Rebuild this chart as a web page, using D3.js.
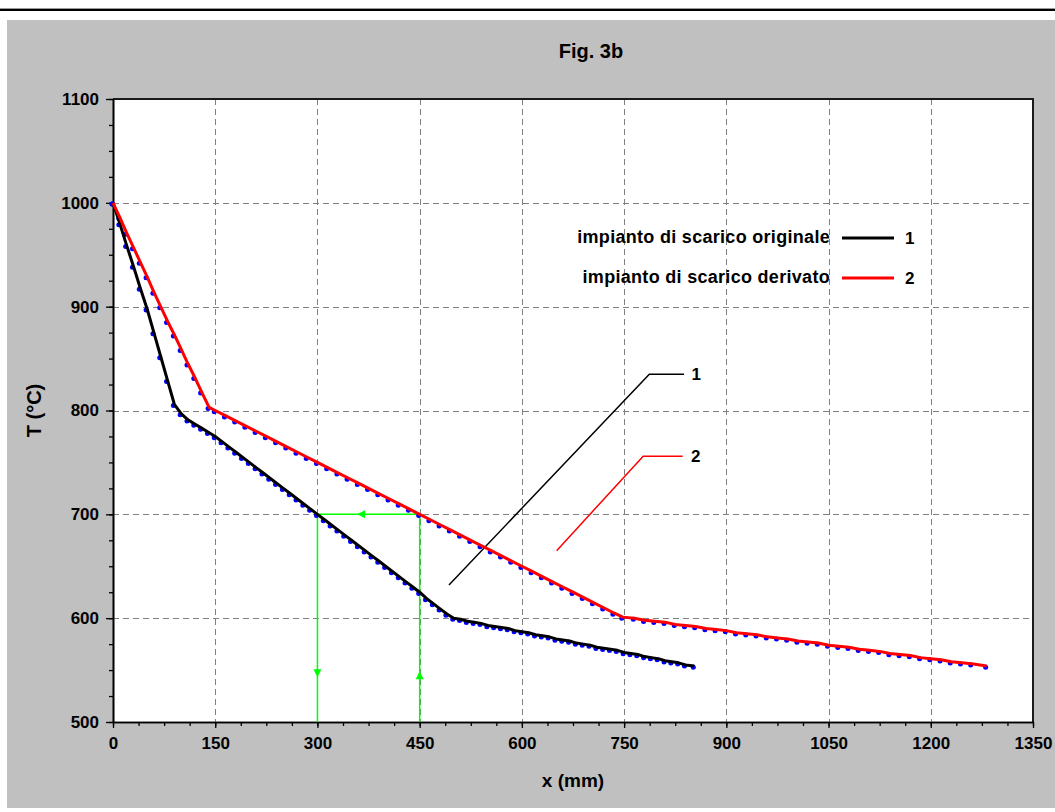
<!DOCTYPE html>
<html>
<head>
<meta charset="utf-8">
<script src="https://cdn.jsdelivr.net/npm/d3@7"></script>
<style>
  html, body { margin: 0; padding: 0; background: #ffffff; }
  svg { display: block; }
  text { font-family: "Liberation Sans", Arial, sans-serif; fill: #000; }
</style>
</head>
<body>
<svg id="chart" width="1055" height="812"></svg>
<script>
// ---------- data ----------
const title = "Fig. 3b";
const xLabel = "x (mm)";
const yLabel = "T (°C)";
const xTicks = [0, 150, 300, 450, 600, 750, 900, 1050, 1200, 1350];
const yTicks = [500, 600, 700, 800, 900, 1000, 1100];

const seriesNames = ["impianto di scarico originale", "impianto di scarico derivato"];
const seriesIds = ["1", "2"];

// series 1 : impianto di scarico originale (x mm, T °C)
const orig_x = [0, 10, 20, 30, 40, 50, 60, 70, 80, 90, 100, 110, 120, 130, 140, 150, 160, 170, 180, 190,
  200, 210, 220, 230, 240, 250, 260, 270, 280, 290, 300, 310, 320, 330, 340, 350, 360, 370, 380, 390,
  400, 410, 420, 430, 440, 450, 460, 470, 480, 490, 500, 510, 520, 530, 540, 550, 560, 570, 580, 590,
  600, 610, 620, 630, 640, 650, 660, 670, 680, 690, 700, 710, 720, 730, 740, 750, 760, 770, 780, 790,
  800, 810, 820, 830, 840, 853];
const orig_T = [1000, 980, 959, 939, 918, 898, 875, 852, 829, 806, 797, 791, 787, 783, 779, 775, 770, 765, 760, 755,
  750, 745, 740, 735, 730, 725, 720, 715, 710, 705, 700, 695, 690, 685, 680, 675, 670, 665, 660, 655,
  650, 645, 640, 635, 630, 625, 619, 614, 609, 604, 600, 599, 597, 596, 595, 593, 592, 591, 590, 588,
  587, 586, 584, 583, 582, 580, 579, 578, 576, 575, 574, 572, 571, 570, 569, 567, 566, 565, 563, 562,
  561, 559, 558, 557, 555, 554];

// series 2 : impianto di scarico derivato
const deriv_x = [0, 10, 20, 30, 40, 50, 60, 70, 80, 90, 100, 110, 120, 130, 141, 150, 165, 180, 195, 210,
  225, 240, 255, 270, 285, 300, 315, 330, 345, 360, 375, 390, 405, 420, 435, 450, 465, 480, 495, 510,
  525, 540, 555, 570, 585, 600, 615, 630, 645, 660, 675, 690, 705, 720, 735, 748, 765, 780, 795, 810,
  825, 840, 855, 870, 885, 900, 915, 930, 945, 960, 975, 990, 1005, 1020, 1035, 1050, 1065, 1080, 1095, 1110,
  1125, 1140, 1155, 1170, 1185, 1200, 1215, 1230, 1245, 1260, 1282];
const deriv_T = [1000, 986, 971, 957, 943, 929, 914, 900, 886, 873, 859, 845, 832, 818, 803, 800, 795, 790, 785, 780,
  775, 770, 765, 760, 755, 750, 745, 740, 735, 730, 725, 720, 715, 710, 705, 700, 695, 690, 685, 680,
  675, 670, 665, 660, 655, 650, 645, 640, 635, 630, 625, 620, 615, 610, 605, 601, 600, 598, 597, 596,
  594, 593, 592, 590, 589, 588, 586, 585, 584, 582, 581, 580, 578, 577, 576, 574, 573, 572, 570, 569,
  568, 566, 565, 564, 562, 561, 560, 558, 557, 556, 554];

// green construction lines (x mm, T °C)
const guide_x = [450, 450, 300, 300];
const guide_T = [500, 700, 700, 500];
// arrow heads on the guide: position and direction
const arrow_x = [300, 450, 364];
const arrow_T = [547, 545, 700];
const arrow_dir = ["down", "up", "left"];

// call-out leaders for curve labels
const leader1_x = [493, 787, 838];
const leader1_T = [632, 835, 835];
const leader2_x = [651, 778, 836];
const leader2_T = [665, 756, 756];
const leaderLabel_x = [849, 848];

// ---------- layout ----------
const W = 1055, H = 812;
const plot = { left: 113, right: 1033, top: 99, bottom: 722 };
const colors = { panel: "#c0c0c0", orig: "#000000", deriv: "#ff0000", dots: "#0000ff", guide: "#00ff00", grid: "#808080" };

const svg = d3.select("#chart");

// top rule
svg.append("rect").attr("x", 0).attr("y", 0).attr("width", W).attr("height", H).attr("fill", "#fff");
svg.append("line").attr("x1", 0).attr("x2", W).attr("y1", 8.5).attr("y2", 8.5).attr("stroke", "#9a9a9a").attr("stroke-width", 1);
svg.append("line").attr("x1", 0).attr("x2", W).attr("y1", 10).attr("y2", 10).attr("stroke", "#000").attr("stroke-width", 2);

// grey panel
svg.append("rect").attr("x", 7).attr("y", 20).attr("width", W - 7).attr("height", 788).attr("fill", colors.panel);

// plot area
svg.append("rect").attr("x", plot.left).attr("y", plot.top)
  .attr("width", plot.right - plot.left).attr("height", plot.bottom - plot.top).attr("fill", "#fff");

const x = d3.scaleLinear().domain([0, 1350]).range([plot.left, plot.right]);
const y = d3.scaleLinear().domain([500, 1100]).range([plot.bottom, plot.top]);

// grid
const grid = svg.append("g");
grid.selectAll("line.vx").data(xTicks.filter(d => d > 0 && d < 1350)).join("line")
  .attr("x1", d => Math.round(x(d)) + 0.5).attr("x2", d => Math.round(x(d)) + 0.5)
  .attr("y1", plot.top).attr("y2", plot.bottom)
  .attr("stroke", colors.grid).attr("stroke-width", 1).attr("stroke-dasharray", "6,4");
grid.selectAll("line.hy").data(yTicks.filter(d => d > 500 && d < 1100)).join("line")
  .attr("y1", d => Math.round(y(d)) + 0.5).attr("y2", d => Math.round(y(d)) + 0.5)
  .attr("x1", plot.left).attr("x2", plot.right)
  .attr("stroke", colors.grid).attr("stroke-width", 1).attr("stroke-dasharray", "6,4");

// border (top/right)
svg.append("path")
  .attr("d", `M${plot.left},${plot.top}H${plot.right}V${plot.bottom}`)
  .attr("fill", "none").attr("stroke", "#1a1a1a").attr("stroke-width", 2);

// axes
const minorX = d3.range(0, 1350.1, 37.5);
const minorY = d3.range(500, 1100.1, 25);

const xMinor = svg.append("g").attr("transform", `translate(0,${plot.bottom})`)
  .call(d3.axisBottom(x).tickValues(minorX).tickSize(4).tickFormat("").tickSizeOuter(0));
const xAxis = svg.append("g").attr("transform", `translate(0,${plot.bottom})`)
  .call(d3.axisBottom(x).tickValues(xTicks).tickSize(6).tickPadding(9).tickSizeOuter(0).tickFormat(d3.format("d")));
const yMinor = svg.append("g").attr("transform", `translate(${plot.left},0)`)
  .call(d3.axisLeft(y).tickValues(minorY).tickSize(4).tickFormat("").tickSizeOuter(0));
const yAxis = svg.append("g").attr("transform", `translate(${plot.left},0)`)
  .call(d3.axisLeft(y).tickValues(yTicks).tickSize(7).tickPadding(7).tickSizeOuter(0).tickFormat(d3.format("d")));

[xMinor, xAxis, yMinor, yAxis].forEach(g => {
  g.select(".domain").attr("stroke", "#000").attr("stroke-width", 1.6);
  g.selectAll(".tick line").attr("stroke", "#000").attr("stroke-width", 1.3);
});
xAxis.selectAll(".tick text").attr("font-size", 17).attr("font-weight", "bold").attr("font-family", "Liberation Sans, Arial, sans-serif").attr("fill", "#000");
yAxis.selectAll(".tick text").attr("font-size", 17).attr("font-weight", "bold").attr("font-family", "Liberation Sans, Arial, sans-serif").attr("fill", "#000");

// green guide lines
const guidePts = guide_x.map((d, i) => [d, guide_T[i]]);
svg.append("path").datum(guidePts)
  .attr("d", d3.line().x(d => x(d[0])).y(d => y(d[1])))
  .attr("fill", "none").attr("stroke", colors.guide).attr("stroke-width", 1.5);
const tri = { down: "M-4,-4L4,-4L0,4Z", up: "M-4,4L4,4L0,-4Z", left: "M4,-4L4,4L-4,0Z" };
svg.selectAll("path.arrow").data(arrow_x.map((d, i) => ({ x: d, T: arrow_T[i], dir: arrow_dir[i] }))).join("path")
  .attr("class", "arrow")
  .attr("transform", d => `translate(${x(d.x)},${y(d.T)})`)
  .attr("d", d => tri[d.dir]).attr("fill", colors.guide);

// leader lines
const lineGen = d3.line().x(d => x(d[0])).y(d => y(d[1]));
svg.append("path").datum(leader1_x.map((d, i) => [d, leader1_T[i]]))
  .attr("d", lineGen).attr("fill", "none").attr("stroke", colors.orig).attr("stroke-width", 1.5);
svg.append("path").datum(leader2_x.map((d, i) => [d, leader2_T[i]]))
  .attr("d", lineGen).attr("fill", "none").attr("stroke", colors.deriv).attr("stroke-width", 1.5);
svg.append("text").attr("x", x(leaderLabel_x[0])).attr("y", y(leader1_T[2]) + 6)
  .attr("font-size", 17).attr("font-weight", "bold").text(seriesIds[0]);
svg.append("text").attr("x", x(leaderLabel_x[1])).attr("y", y(leader2_T[2]) + 6)
  .attr("font-size", 17).attr("font-weight", "bold").text(seriesIds[1]);

// series: dots then lines
const series = [
  { pts: orig_x.map((d, i) => [d, orig_T[i]]), color: colors.orig },
  { pts: deriv_x.map((d, i) => [d, deriv_T[i]]), color: colors.deriv }
];
series.forEach(s => {
  svg.append("g").selectAll("circle").data(s.pts).join("circle")
    .attr("cx", d => x(d[0]) - 1).attr("cy", d => y(d[1]) + 1.2).attr("r", 2.5).attr("fill", colors.dots);
});
series.forEach(s => {
  svg.append("path").datum(s.pts).attr("d", lineGen)
    .attr("fill", "none").attr("stroke", s.color).attr("stroke-width", 3).attr("stroke-linejoin", "round");
});

// legend
const legendY = [238, 278];
const lg = svg.append("g");
seriesNames.forEach((name, i) => {
  lg.append("text").attr("x", 830).attr("y", legendY[i] + 5).attr("text-anchor", "end")
    .attr("font-size", 18).attr("font-weight", "bold").attr("letter-spacing", 0.3).text(name);
  lg.append("line").attr("x1", 842).attr("x2", 894).attr("y1", legendY[i]).attr("y2", legendY[i])
    .attr("stroke", i === 0 ? colors.orig : colors.deriv).attr("stroke-width", 3);
  lg.append("text").attr("x", 905).attr("y", legendY[i] + 6)
    .attr("font-size", 17).attr("font-weight", "bold").text(seriesIds[i]);
});

// titles
svg.append("text").attr("x", 591).attr("y", 58).attr("text-anchor", "middle")
  .attr("font-size", 20).attr("font-weight", "bold").text(title);
svg.append("text").attr("x", (plot.left + plot.right) / 2).attr("y", 787).attr("text-anchor", "middle")
  .attr("font-size", 19).attr("font-weight", "bold").text(xLabel);
svg.append("text").attr("transform", `translate(41,${(plot.top + plot.bottom) / 2}) rotate(-90)`)
  .attr("text-anchor", "middle").attr("font-size", 20).attr("font-weight", "bold").text(yLabel);
</script>
</body>
</html>
